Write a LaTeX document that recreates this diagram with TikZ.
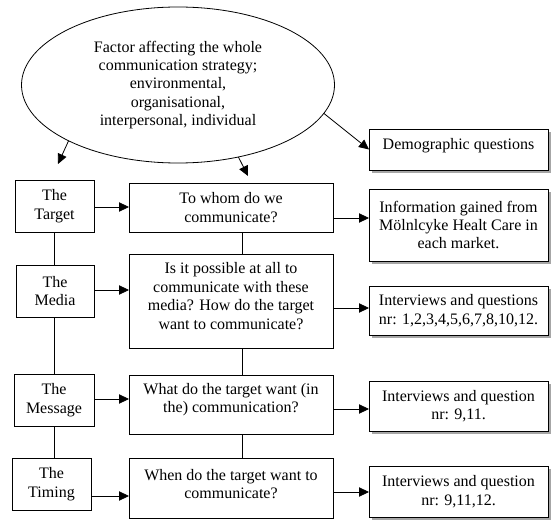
\documentclass[tikz,border=0pt]{standalone}
\usepackage{fontspec}
\setmainfont{Liberation Serif}
\usetikzlibrary{shapes.geometric,arrows.meta,shadows}
\begin{document}
\begin{tikzpicture}[x=0.75pt,y=-0.75pt,
  every node/.style={font=\fontsize{12}{13.8}\selectfont, align=center},
  sz/.style 2 args={minimum width=#1*0.75pt, minimum height=#2*0.75pt},
  plainbox/.style={draw, line width=0.6pt, inner sep=0pt, outer sep=0pt, fill=white},
  shbox/.style={plainbox, drop shadow={shadow xshift=2pt, shadow yshift=-2pt, fill=gray!70, opacity=1}},
  txt/.style={inner sep=0pt},
  conn/.style={line width=0.6pt},
  arr/.style={line width=0.6pt, -{Triangle[length=7.5pt,width=7pt]}}]
\useasboundingbox (0,0) rectangle (552,520);
% ellipse
\node[draw, ellipse, line width=0.6pt, sz={313}{156}, inner sep=0pt, outer sep=0pt] (ell) at (178,85)
  {Factor affecting the whole\\communication strategy;\\environmental,\\organisational,\\interpersonal, individual};
% left column
\node[plainbox, sz={79}{52}] (target) at (54.5,206) {The\\Target};
\node[plainbox, sz={78}{52}] (media) at (55,291) {The\\Media};
\node[plainbox, sz={80}{52}] (message) at (54,400) {The\\Message};
\node[plainbox, sz={79}{52}] (timing) at (51.5,484) {The\\Timing};
% middle column
\node[plainbox, sz={204}{49}] (q1) at (231,207.5) {To whom do we\\communicate?};
\node[plainbox, sz={204}{94}] (q2) at (231,301) {};
\node[txt] (q2t) at (231,296) {Is it possible at all to\\communicate with these\\media? How do the target\\want to communicate?};
\node[plainbox, sz={204}{59}] (q3) at (231,404.5) {};
\node[txt] (q3t) at (231,399.5) {What do the target want (in\\the) communication?};
\node[plainbox, sz={204}{60}] (q4) at (231,488) {};
\node[txt] (q4t) at (231,484) {When do the target want to\\communicate?};
% right column
\node[shbox, sz={179}{41}] (demo) at (458.5,149.5) {};
\node[txt] (demot) at (458.5,145.5) {Demographic questions};
\node[shbox, sz={179}{72}] (info) at (458.5,225) {Information gained from\\Mölnlcyke Healt Care in\\each market.};
\node[shbox, sz={179}{49}] (int1) at (458.5,310.5) {Interviews and questions\\nr: 1,2,3,4,5,6,7,8,10,12.};
\node[shbox, sz={179}{50}] (int2) at (458.5,406) {Interviews and question\\nr: 9,11.};
\node[shbox, sz={179}{51}] (int3) at (458.5,491.5) {Interviews and question\\nr: 9,11,12.};
% free arrow ends
\coordinate (tipL) at (58,164);
\coordinate (tipM) at (248,176);
% ellipse arrows
\draw[arr] (ell.207.8) -- (tipL);
\draw[arr] (ell.310.6) -- (tipM);
\draw[arr] (ell.349) -- (demo.west);
% left vertical connectors
\draw[conn] (target.south) -- (target.south |- media.north);
\draw[conn] (media.south -| 54,0) -- (message.north -| 54,0);
\draw[conn] (message.south) -- (message.south |- timing.north);
% middle vertical connectors
\draw[conn] (q1.south -| 242,0) -- (q2.north -| 242,0);
\draw[conn] (q2.south -| 242,0) -- (q3.north -| 242,0);
\draw[conn] (q3.south -| 242,0) -- (q4.north -| 242,0);
% left to middle arrows
\draw[arr] (target.east |- 0,207) -- (q1.west |- 0,207);
\draw[arr] (media.east |- 0,290) -- (q2.west |- 0,290);
\draw[arr] (message.east |- 0,399) -- (q3.west |- 0,399);
\draw[arr] (timing.east |- 0,496) -- (q4.west |- 0,496);
% middle to right arrows
\draw[arr] (q1.east |- 0,218) -- (info.west |- 0,218);
\draw[arr] (q2.east |- 0,308) -- (int1.west |- 0,308);
\draw[arr] (q3.east |- 0,409) -- (int2.west |- 0,409);
\draw[arr] (q4.east |- 0,492) -- (int3.west |- 0,492);
\end{tikzpicture}
\end{document}
